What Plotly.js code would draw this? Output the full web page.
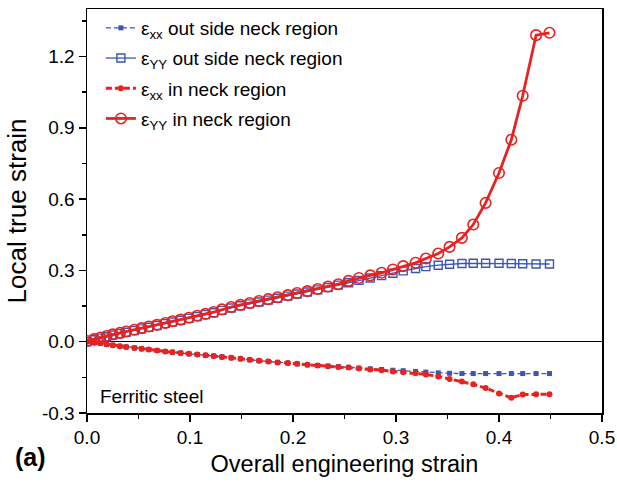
<!DOCTYPE html>
<html>
<head>
<meta charset="utf-8">
<script src="https://cdn.plot.ly/plotly-3.0.1.min.js"></script>
<style>html,body{margin:0;padding:0;background:#fff;}#chart{width:617px;height:487px;}</style>
</head>
<body>
<div id="chart"></div>
<script>
// Overall engineering strain (x positions of measurement frames)
const strain = [0.000,0.007,0.013,0.019,0.025,0.032,0.038,0.046,0.053,0.060,0.068,0.076,0.083,0.091,0.099,0.107,0.115,0.123,0.131,0.140,0.149,0.158,0.167,0.176,0.185,0.195,0.204,0.214,0.224,0.234,0.244,0.254,0.264,0.275,0.286,0.297,0.307,0.319,0.329,0.341,0.352,0.364,0.375,0.387,0.400,0.412,0.423,0.436,0.449];

// eps_xx out side neck region (blue, filled squares, dashed)
const exxOut = [0.000,-0.004,-0.007,-0.011,-0.015,-0.019,-0.022,-0.026,-0.030,-0.033,-0.037,-0.041,-0.044,-0.048,-0.051,-0.054,-0.057,-0.060,-0.064,-0.068,-0.072,-0.076,-0.080,-0.083,-0.087,-0.090,-0.093,-0.097,-0.100,-0.103,-0.105,-0.108,-0.111,-0.114,-0.117,-0.120,-0.122,-0.125,-0.128,-0.131,-0.133,-0.134,-0.134,-0.134,-0.134,-0.134,-0.134,-0.134,-0.134];

// eps_yy out side neck region (blue, open squares)
const eyyOut = [0.000,0.008,0.015,0.021,0.028,0.034,0.040,0.047,0.054,0.061,0.068,0.076,0.083,0.090,0.098,0.106,0.114,0.122,0.132,0.142,0.151,0.159,0.167,0.175,0.183,0.192,0.201,0.209,0.218,0.228,0.238,0.248,0.258,0.268,0.278,0.288,0.298,0.308,0.316,0.322,0.326,0.329,0.330,0.330,0.330,0.329,0.328,0.327,0.327];

// eps_xx in neck region (red, filled circles, dashed)
const exxIn = [0.000,-0.004,-0.007,-0.011,-0.015,-0.019,-0.022,-0.026,-0.030,-0.033,-0.037,-0.041,-0.044,-0.048,-0.051,-0.054,-0.057,-0.060,-0.064,-0.068,-0.072,-0.076,-0.080,-0.083,-0.087,-0.090,-0.093,-0.097,-0.100,-0.103,-0.106,-0.109,-0.113,-0.117,-0.120,-0.125,-0.129,-0.133,-0.138,-0.146,-0.157,-0.167,-0.179,-0.195,-0.218,-0.236,-0.222,-0.221,-0.221];

// eps_yy in neck region (red, open circles, solid)
const eyyIn = [0.003,0.011,0.018,0.024,0.031,0.037,0.043,0.050,0.057,0.064,0.071,0.079,0.086,0.093,0.101,0.109,0.117,0.125,0.136,0.146,0.155,0.163,0.171,0.179,0.187,0.196,0.205,0.213,0.222,0.232,0.242,0.256,0.268,0.279,0.290,0.304,0.318,0.332,0.350,0.371,0.399,0.437,0.493,0.584,0.710,0.850,1.035,1.290,1.300];

const seriesNames = [
  'ε<sub>xx</sub> out side neck region',
  'ε<sub>YY</sub> out side neck region',
  'ε<sub>xx</sub> in neck region',
  'ε<sub>YY</sub> in neck region'
];

const xTickVals = [0, 0.1, 0.2, 0.3, 0.4, 0.5];
const xTickText = ['0.0', '0.1', '0.2', '0.3', '0.4', '0.5'];
const yTickVals = [-0.3, 0, 0.3, 0.6, 0.9, 1.2];
const yTickText = ['-0.3', '0.0', '0.3', '0.6', '0.9', '1.2'];

const BLUE = '#3b56b6';
const RED = '#e8221f';
const FONT = 'Arial, "Liberation Sans", sans-serif';

const traces = [
  {x: strain, y: exxOut, name: seriesNames[0], legendgroup: 'a', mode: 'lines+markers',
   line: {color: BLUE, width: 1.3, dash: '5px,3px'},
   marker: {symbol: 'square', size: 5, color: BLUE}},
  {x: strain, y: eyyOut, name: seriesNames[1], legendgroup: 'b', mode: 'lines+markers',
   line: {color: BLUE, width: 1.3},
   marker: {symbol: 'square-open', size: 8, color: BLUE, line: {width: 1.4}}},
  {x: strain, y: exxIn, name: seriesNames[2], legendgroup: 'c', mode: 'lines+markers',
   line: {color: RED, width: 3, dash: '6px,3px'},
   marker: {symbol: 'circle', size: 6, color: RED}},
  {x: strain, y: eyyIn, name: seriesNames[3], legendgroup: 'd', mode: 'lines+markers',
   line: {color: RED, width: 2.8},
   marker: {symbol: 'circle-open', size: 10.5, color: RED, line: {width: 1.6}}}
];

const layout = {
  width: 617, height: 487,
  margin: {l: 87, r: 15, t: 9, b: 74},
  paper_bgcolor: '#fff', plot_bgcolor: '#fff',
  font: {family: FONT, size: 19, color: '#000'},
  showlegend: true,
  legend: {x: 0.027, y: 1.0, xanchor: 'left', yanchor: 'top', bgcolor: 'rgba(0,0,0,0)',
           font: {family: FONT, size: 19, color: '#000'}, tracegroupgap: 2.5, traceorder: 'grouped'},
  xaxis: {
    range: [0, 0.5], tickvals: xTickVals, ticktext: xTickText,
    ticks: 'outside', ticklen: 7, tickwidth: 1.5, tickcolor: '#000',
    minor: {dtick: 0.05, tick0: 0, ticks: 'outside', ticklen: 4, tickwidth: 1.5, tickcolor: '#000', showgrid: false},
    showline: true, linecolor: '#000', linewidth: 1.5, mirror: true,
    showgrid: false, zeroline: false,
    tickfont: {family: FONT, size: 19},
    title: {text: 'Overall engineering strain', font: {family: FONT, size: 23.5}, standoff: 8}
  },
  yaxis: {
    range: [-0.3, 1.4], tickvals: yTickVals, ticktext: yTickText,
    ticks: 'outside', ticklen: 7, tickwidth: 1.5, tickcolor: '#000',
    minor: {dtick: 0.15, tick0: -0.3, ticks: 'outside', ticklen: 4, tickwidth: 1.5, tickcolor: '#000', showgrid: false},
    showline: true, linecolor: '#000', linewidth: 1.5, mirror: true,
    showgrid: false, zeroline: true, zerolinecolor: '#000', zerolinewidth: 1.5,
    tickfont: {family: FONT, size: 19},
    title: {text: 'Local true strain', font: {family: FONT, size: 26}, standoff: 8}
  },
  annotations: [
    {text: 'Ferritic steel', xref: 'paper', yref: 'paper', x: 0.022, y: 0.04, xanchor: 'left', yanchor: 'middle',
     showarrow: false, font: {family: FONT, size: 19, color: '#000'}},
    {text: '<b>(a)</b>', xref: 'paper', yref: 'paper', x: -0.11, y: -0.11, xanchor: 'center', yanchor: 'middle',
     showarrow: false, font: {family: FONT, size: 25, color: '#000'}}
  ]
};

Plotly.newPlot('chart', traces, layout, {displayModeBar: false, staticPlot: true});
</script>
</body>
</html>
